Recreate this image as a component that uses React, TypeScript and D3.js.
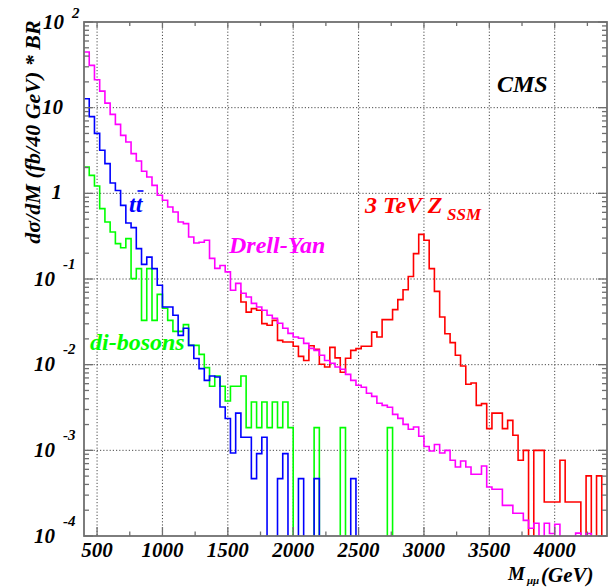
import React from "react";
import * as d3 from "d3";

// Histogram bins: 40 GeV wide, first bin starts at 400 GeV
const BIN_WIDTH = 40;
const X_MIN = 400;
const X_MAX = 4400;

// d sigma/dM * BR (fb / 40 GeV), one value per bin starting at 400 GeV
const drellYan = [
  44.6, 31.2, 21.2, 15.6, 11.3, 8.36, 6.39, 4.75, 3.97, 2.91,
  2.38, 1.81, 1.55, 1.24, 0.948, 0.829, 0.692, 0.605, 0.462, 0.443,
  0.309, 0.263, 0.268, 0.283, 0.174, 0.133, 0.144, 0.121, 0.0738, 0.089,
  0.0681, 0.0616, 0.052, 0.0471, 0.0431, 0.0377, 0.0348, 0.0304, 0.0266, 0.0232,
  0.021, 0.0203, 0.0177, 0.0155, 0.0147, 0.0129, 0.0112, 0.0104, 0.00938, 0.00883,
  0.00771, 0.00656, 0.00574, 0.00544, 0.00463, 0.00427, 0.00354, 0.00335, 0.00318, 0.00263,
  0.00236, 0.00201, 0.00176, 0.00187, 0.00146, 0.00111, 0.000982, 0.00117, 0.000931, 0.001,
  0.000765, 0.000638, 0.00075, 0.000638, 0.000525, 0.000525, 0.000656, 0.000373, 0.000351, 0.000351,
  0.000228, 0.000228, 0.000184, 0.000184, 0.000152, 0.000123, 0.000141, 0, 0.000141, 0.000107,
  0.000137, 0, 0, 0, 0.000108, 0, 0.000107, 0, 0, 0,
];

const ttbar = [
  12.7, 7.86, 5.01, 3.18, 2.22, 1.32, 1.08, 0.724, 0.45, 0.398,
  0.226, 0.148, 0.18, 0.132, 0.0844, 0.0471, 0.0471, 0.0377, 0.022, 0.0266,
  0.0168, 0.0118, 0.00899, 0.00656, 0.00737, 0.00718, 0.0032, 0.00235, 0.000931, 0.00272,
  0.00142, 0.00142, 0.000468, 0.000916, 0.00142, 0, 0, 0.000468, 0.000916, 0,
  0, 0.000468, 0, 0, 0.000468, 0, 0, 0, 0, 0,
  0, 0.000468,
];

const diBosons = [
  2.03, 1.62, 1.22, 0.663, 0.462, 0.353, 0.259, 0.232, 0.296, 0.101,
  0.132, 0.0329, 0.132, 0.0329, 0.0662, 0.0455, 0.0329, 0.0245, 0.0245, 0.0293,
  0.0168, 0.0168, 0.0132, 0.00923, 0.00559, 0.00737, 0.00559, 0.00376, 0.00559, 0.00559,
  0.00737, 0.00184, 0.00366, 0.00184, 0.00366, 0.00184, 0.00366, 0.00184, 0.00366, 0.00184,
  0, 0, 0, 0, 0.00184, 0, 0, 0, 0, 0.00184,
  0, 0, 0, 0, 0, 0, 0, 0, 0.00184,
];

// 3 TeV Z'_SSM (+ Drell-Yan), drawn from 1600 GeV; first value is the entry level of the 1560-1600 bin
const zssmFirstBin = 29;
const zssm = [
  0.0738,
  0.0539, 0.0411, 0.0451, 0.0431, 0.0301, 0.0288, 0.0329, 0.0192, 0.0184, 0.0184,
  0.0164, 0.0125, 0.0112, 0.0166, 0.0151, 0.0101, 0.00938, 0.0159, 0.012, 0.00814,
  0.0119, 0.0147, 0.0154, 0.0164, 0.0164, 0.024, 0.021, 0.0336, 0.0336, 0.0439,
  0.0574, 0.0748, 0.107, 0.198, 0.332, 0.283, 0.132, 0.0718, 0.036, 0.023,
  0.0181, 0.0129, 0.00964, 0.0059, 0.00611, 0.00335, 0.00351, 0.00179, 0.00272, 0.00272,
  0.00179, 0.00224, 0.0015, 0.000765, 0.001, 0, 0.001, 0.001, 0.000249, 0.000249,
  0.000249, 0.000765, 0.000249, 0.000249, 0.000249, 0, 0.000504, 0, 0.000504,
];

const X_TICKS = [500, 1000, 1500, 2000, 2500, 3000, 3500, 4000];
const X_MINOR_TICKS = [750, 1250, 1750, 2250, 2750, 3250, 3750, 4250];
const Y_DECADES = [-4, -3, -2, -1, 0, 1, 2];

const COLORS = {
  dy: "#ff00ff",
  tt: "#0000ff",
  vv: "#00ff00",
  zp: "#ff0000",
};

const W = 615;
const H = 587;
const M = { left: 84, right: 607, top: 22, bottom: 536 };

const x = d3.scaleLinear().domain([X_MIN, X_MAX]).range([M.left, M.right]);
const y = d3.scaleLog().domain([1e-4, 1e2]).range([M.bottom, M.top]);

function stepPath(vals: number[], firstBin: number, enterAtEdge: boolean): string {
  const yb = y(1e-4);
  const yv = (v: number) => (v > 0 ? y(Math.max(v, 1e-4)) : yb);
  let p = "";
  let penDown = false;
  vals.forEach((v, i) => {
    const bin = firstBin + i;
    const x0 = x(X_MIN + bin * BIN_WIDTH);
    const x1 = x(X_MIN + (bin + 1) * BIN_WIDTH);
    if (i === 0) {
      if (enterAtEdge) {
        p += `M${x1},${yv(v)}`;
        penDown = true;
        return;
      }
      if (v > 0) {
        p += `M${x0},${yv(v)}H${x1}`;
        penDown = true;
      } else {
        p += `M${x1},${yb}`;
        penDown = false;
      }
      return;
    }
    if (v > 0) {
      if (!penDown) p += `M${x0},${yb}`;
      p += `V${yv(v)}H${x1}`;
      penDown = true;
    } else {
      if (penDown) p += `V${yb}`;
      p += `M${x1},${yb}`;
      penDown = false;
    }
  });
  if (penDown) p += `V${yb}`;
  return p;
}

const FONT = "'Liberation Serif', 'DejaVu Serif', 'Times New Roman', serif";

export default function App() {
  const gridColor = "#4a4a4a";
  const frameColor = "#6f6f6f";

  const yMajor: number[] = Y_DECADES.map((d) => Math.pow(10, d));
  const yMinor: number[] = [];
  Y_DECADES.slice(0, -1).forEach((d) => {
    for (let k = 2; k <= 9; k++) yMinor.push(k * Math.pow(10, d));
  });

  const textStyle = {
    fontFamily: FONT,
    fontWeight: "bold" as const,
    fontStyle: "italic" as const,
  };

  return (
    <svg
      width={W}
      height={H}
      viewBox={`0 0 ${W} ${H}`}
      style={{ position: "absolute", left: 0, top: 0, background: "#ffffff" }}
    >
      <defs>
        <clipPath id="plotClip">
          <rect x={M.left} y={M.top} width={M.right - M.left} height={M.bottom - M.top} />
        </clipPath>
      </defs>
      <rect x={0} y={0} width={W} height={H} fill="#ffffff" />

      {/* grid */}
      <g stroke={gridColor} strokeWidth={1} strokeDasharray="1.2 2" fill="none">
        {X_TICKS.map((t) => (
          <line key={"gx" + t} x1={x(t)} x2={x(t)} y1={M.top} y2={M.bottom} />
        ))}
        {Y_DECADES.slice(1, -1).map((d) => (
          <line key={"gy" + d} x1={M.left} x2={M.right} y1={y(Math.pow(10, d))} y2={y(Math.pow(10, d))} />
        ))}
      </g>

      {/* histograms */}
      <g clipPath="url(#plotClip)" fill="none" strokeWidth={1.6} strokeLinejoin="miter">
        <path d={stepPath(zssm, zssmFirstBin, true)} stroke={COLORS.zp} />
        <path d={stepPath(drellYan, 0, false)} stroke={COLORS.dy} />
        <path d={stepPath(diBosons, 0, false)} stroke={COLORS.vv} />
        <path d={stepPath(ttbar, 0, false)} stroke={COLORS.tt} />
      </g>

      {/* frame */}
      <rect
        x={M.left}
        y={M.top}
        width={M.right - M.left}
        height={M.bottom - M.top}
        fill="none"
        stroke={frameColor}
        strokeWidth={1.8}
      />

      {/* ticks */}
      <g stroke={frameColor} strokeWidth={1.3}>
        {X_TICKS.map((t) => (
          <g key={"xt" + t}>
            <line x1={x(t)} x2={x(t)} y1={M.bottom} y2={M.bottom - 9} />
            <line x1={x(t)} x2={x(t)} y1={M.top} y2={M.top + 6} />
          </g>
        ))}
        {X_MINOR_TICKS.map((t) => (
          <g key={"xm" + t}>
            <line x1={x(t)} x2={x(t)} y1={M.bottom} y2={M.bottom - 4.5} />
            <line x1={x(t)} x2={x(t)} y1={M.top} y2={M.top + 4} />
          </g>
        ))}
        {yMajor.map((v) => (
          <g key={"ym" + v}>
            <line x1={M.left} x2={M.left + 9} y1={y(v)} y2={y(v)} />
            <line x1={M.right} x2={M.right - 9} y1={y(v)} y2={y(v)} />
          </g>
        ))}
        {yMinor.map((v) => (
          <g key={"yn" + v}>
            <line x1={M.left} x2={M.left + 5} y1={y(v)} y2={y(v)} />
            <line x1={M.right} x2={M.right - 5} y1={y(v)} y2={y(v)} />
          </g>
        ))}
      </g>

      {/* y tick labels */}
      <g {...textStyle} fill="#000">
        {Y_DECADES.map((d) => {
          const yy = y(Math.pow(10, d));
          if (d === 0)
            return (
              <text key={"yl" + d} x={62} y={yy + 5.5} fontSize={21} textAnchor="end">
                1
              </text>
            );
          if (d === 1)
            return (
              <text key={"yl" + d} x={63} y={yy + 6.5} fontSize={21} textAnchor="end">
                10
              </text>
            );
          if (d > 1)
            return (
              <g key={"yl" + d}>
                <text x={64} y={yy + 6.5} fontSize={21} textAnchor="end">
                  10
                </text>
                <text x={72} y={yy - 4} fontSize={15}>
                  {String(d)}
                </text>
              </g>
            );
          return (
            <g key={"yl" + d}>
              <text x={55} y={yy + 6.5} fontSize={21} textAnchor="end">
                10
              </text>
              <text x={63} y={yy - 10.5} fontSize={15}>
                {"-" + String(-d)}
              </text>
            </g>
          );
        })}
      </g>

      {/* x tick labels */}
      <g {...textStyle} fill="#000" fontSize={21} textAnchor="middle">
        {X_TICKS.map((t) => (
          <text key={"xl" + t} x={x(t)} y={557}>
            {t}
          </text>
        ))}
      </g>

      {/* axis titles */}
      <text
        {...textStyle}
        fontSize={22}
        textAnchor="middle"
        transform="translate(40,132) rotate(-90)"
        fill="#000"
      >
        dσ/dM (fb/40 GeV) * BR
      </text>
      <g {...textStyle} fill="#000">
        <text x={508} y={580} fontSize={19}>
          M
        </text>
        <text x={527} y={584} fontSize={11}>
          μμ
        </text>
        <text x={541} y={582} fontSize={21}>
          (GeV)
        </text>
      </g>

      {/* labels */}
      <text {...textStyle} x={497} y={92} fontSize={24} fill="#000">
        CMS
      </text>
      <g {...textStyle} fill={COLORS.tt}>
        <text x={129} y={212} fontSize={24}>
          tt
        </text>
        <line x1={137.5} x2={143.5} y1={191} y2={191} stroke={COLORS.tt} strokeWidth={1.6} />
      </g>
      <text {...textStyle} x={90} y={350} fontSize={24} fill={COLORS.vv}>
        di-bosons
      </text>
      <text {...textStyle} x={229} y={253} fontSize={24} fill={COLORS.dy}>
        Drell-Yan
      </text>
      <g {...textStyle} fill={COLORS.zp}>
        <text x={365} y={213} fontSize={24}>
          3 TeV Z
        </text>
        <text x={447} y={220} fontSize={17}>
          SSM
        </text>
      </g>
    </svg>
  );
}
